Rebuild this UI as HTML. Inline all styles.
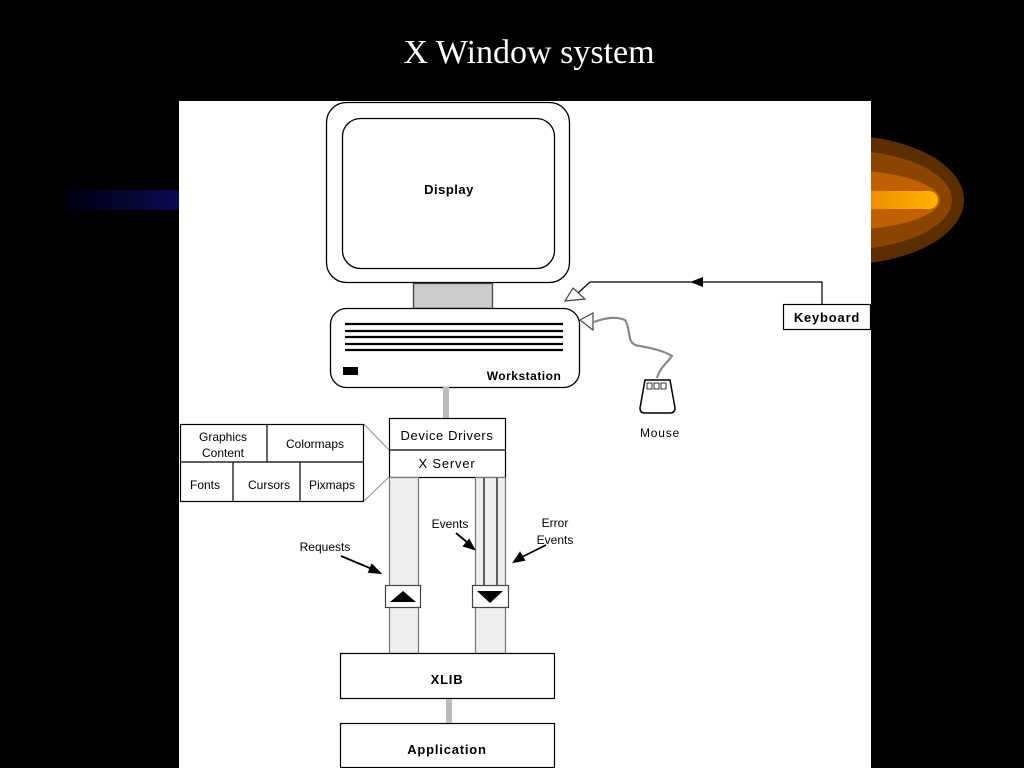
<!DOCTYPE html>
<html><head><meta charset="utf-8"><style>
html,body{margin:0;padding:0;background:#000;width:1024px;height:768px;overflow:hidden}
svg{display:block}
</style></head><body>
<svg width="1024" height="768" viewBox="0 0 1024 768" xmlns="http://www.w3.org/2000/svg" font-family="Liberation Sans, sans-serif">
<defs>
<linearGradient id="bl" x1="0" x2="1"><stop offset="0" stop-color="#000010"/><stop offset="1" stop-color="#0a0a55"/></linearGradient>
<linearGradient id="or" x1="0" x2="1"><stop offset="0" stop-color="#e07800"/><stop offset="1" stop-color="#ffb000"/></linearGradient>
</defs>
<rect width="1024" height="768" fill="#000"/>
<text x="529" y="63" fill="#fff" font-family="Liberation Serif, serif" font-size="34" text-anchor="middle">X Window system</text>
<rect x="65" y="190" width="120" height="20" fill="url(#bl)"/>
<ellipse cx="840" cy="200" rx="124" ry="65" fill="#5a2e00"/>
<ellipse cx="840" cy="200" rx="112" ry="50" fill="#8a4500"/>
<ellipse cx="840" cy="200" rx="100" ry="30" fill="#c06000"/>
<rect x="820" y="191" width="118" height="18" rx="9" fill="url(#or)"/>
<rect x="179" y="101" width="692" height="667" fill="#fff"/>
<g stroke="#000" fill="none" stroke-width="1.3">
<rect x="326.5" y="102.5" width="243" height="180" rx="20" fill="#fff"/>
<rect x="342.5" y="118.5" width="212" height="150" rx="18"/>
<rect x="413.5" y="283.5" width="79" height="25" fill="#ccc" stroke="#444"/>
<rect x="330.5" y="308.5" width="249" height="79" rx="16" fill="#fff"/>
<g stroke-width="2.2"><line x1="345" y1="324" x2="563" y2="324"/><line x1="345" y1="331" x2="563" y2="331"/><line x1="345" y1="337" x2="563" y2="337"/><line x1="345" y1="344" x2="563" y2="344"/><line x1="345" y1="350" x2="563" y2="350"/></g>
</g>
<rect x="343" y="367" width="15" height="8" fill="#000"/>
<text x="449" y="194" font-size="13" font-weight="bold" text-anchor="middle" letter-spacing="0.5">Display</text>
<text x="524" y="380" font-size="12" font-weight="bold" text-anchor="middle" letter-spacing="0.5">Workstation</text>
<g stroke="#000" stroke-width="1.2" fill="none">
<polyline points="822,304 822,282 590,282 578,293"/>
<polygon points="565,301 573,288 585,299" fill="#fff" stroke="#444"/>
<polygon points="580,320 593,313 593,330" fill="#fff" stroke="#444"/>
<rect x="783.5" y="304.5" width="87" height="25" fill="#fff"/>
</g>
<polygon points="690,282 703,277 703,287" fill="#000"/>
<text x="827" y="322" font-size="13" font-weight="bold" text-anchor="middle" letter-spacing="0.8">Keyboard</text>
<path d="M594,322 C605,318 615,316 625,320 C632,330 625,345 640,346 C650,348 662,350 672,356 C665,365 660,368 657,378" stroke="#888" stroke-width="2.2" fill="none"/>
<path d="M645,380 L670,380 L675,408 Q675,413 670,413 L645,413 Q640,413 640,408 Z" fill="#fff" stroke="#000" stroke-width="1.5"/>
<rect x="647" y="383" width="5" height="6" fill="none" stroke="#000" stroke-width="0.8"/><rect x="654" y="383" width="5" height="6" fill="none" stroke="#000" stroke-width="0.8"/><rect x="661" y="383" width="5" height="6" fill="none" stroke="#000" stroke-width="0.8"/>
<text x="660" y="437" font-size="12" text-anchor="middle" letter-spacing="0.8">Mouse</text>
<rect x="443" y="387" width="6" height="31" fill="#bbb"/>
<g stroke="#000" stroke-width="1.2">
<rect x="389.5" y="418.5" width="116" height="59" fill="#fff"/>
<line x1="389" y1="450" x2="506" y2="450"/>
</g>
<text x="447" y="440" font-size="13" text-anchor="middle" letter-spacing="0.6">Device Drivers</text>
<text x="447" y="468" font-size="13" text-anchor="middle" letter-spacing="0.8">X Server</text>
<g stroke="#777" stroke-width="1.2" fill="#eee">
<rect x="389.5" y="477.5" width="29" height="176"/>
<rect x="475.5" y="477.5" width="30" height="176"/>
<line x1="484" y1="478" x2="484" y2="586" stroke="#000"/>
<line x1="497" y1="478" x2="497" y2="586" stroke="#000"/>
</g>
<g stroke="#444" stroke-width="1.2" fill="#fff">
<rect x="385.5" y="585.5" width="35" height="22"/>
<rect x="472.5" y="585.5" width="36" height="22"/>
</g>
<polygon points="390,602 416,602 403,591" fill="#000"/>
<polygon points="477,591 503,591 490,603" fill="#000"/>
<g stroke="#000" stroke-width="1.2" fill="none">
<rect x="180.5" y="424.5" width="183" height="77" fill="#fff"/>
<line x1="180" y1="462" x2="364" y2="462"/>
<line x1="267" y1="424" x2="267" y2="462"/>
<line x1="233" y1="462" x2="233" y2="501"/>
<line x1="300" y1="462" x2="300" y2="501"/>
</g>
<g stroke="#999" stroke-width="1.2"><line x1="364" y1="424" x2="389" y2="450"/><line x1="364" y1="501" x2="389" y2="477"/></g>
<g font-size="12" text-anchor="middle">
<text x="223" y="441">Graphics</text><text x="223" y="457">Content</text>
<text x="315" y="448">Colormaps</text>
<text x="205" y="489">Fonts</text><text x="269" y="489">Cursors</text><text x="332" y="489">Pixmaps</text>
<text x="325" y="551">Requests</text>
<text x="450" y="528">Events</text>
<text x="555" y="527">Error</text><text x="555" y="544">Events</text>
</g>
<g stroke="#000" stroke-width="1.8" fill="#000">
<line x1="341" y1="556" x2="372" y2="569"/><polygon points="380,573 369,572 372,565"/>
<line x1="456" y1="533" x2="468" y2="543"/><polygon points="474,549 464,546 469,540"/>
<line x1="546" y1="545" x2="522" y2="557"/><polygon points="514,562 520,553 524,560"/>
</g>
<g stroke="#000" stroke-width="1.2" fill="#fff">
<rect x="340.5" y="653.5" width="214" height="45"/>
<rect x="340.5" y="723.5" width="214" height="44"/>
</g>
<rect x="446" y="699" width="6" height="24" fill="#bbb"/>
<text x="447" y="684" font-size="13" font-weight="bold" text-anchor="middle" letter-spacing="0.8">XLIB</text>
<text x="447" y="754" font-size="13" font-weight="bold" text-anchor="middle" letter-spacing="0.8">Application</text>
</svg>
</body></html>
